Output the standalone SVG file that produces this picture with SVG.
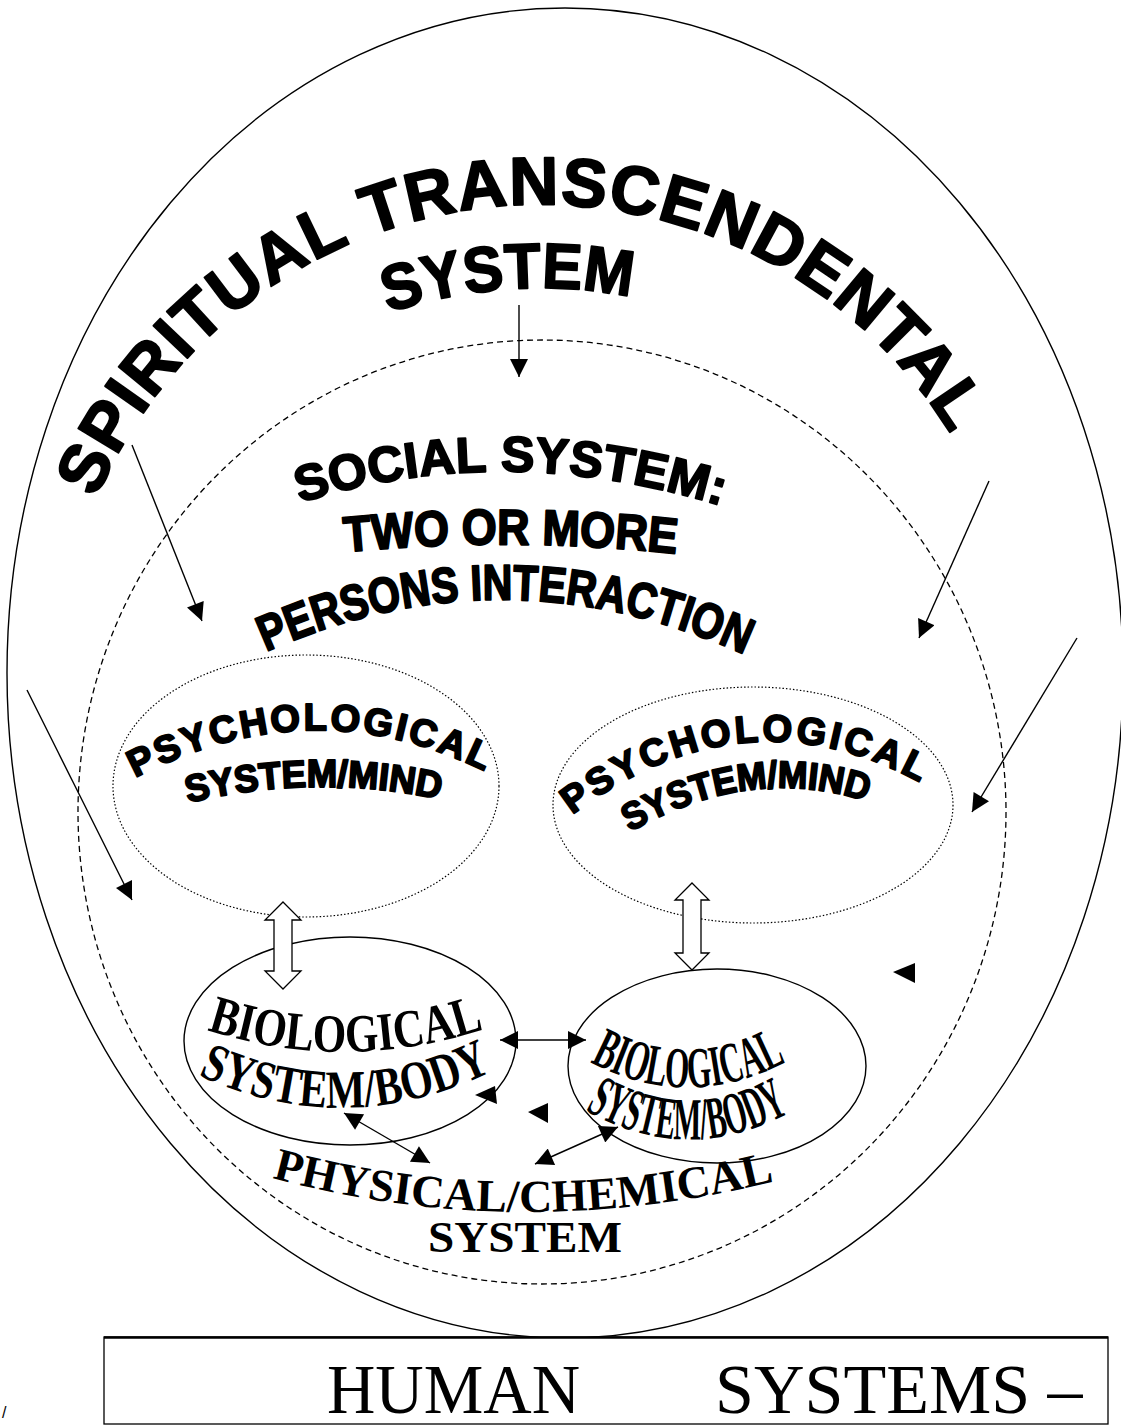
<svg xmlns="http://www.w3.org/2000/svg" width="1121" height="1425" viewBox="0 0 1121 1425">
<style>
.sans{font-family:"Liberation Sans",Arial,sans-serif;font-weight:bold;fill:#000;stroke:#000;stroke-width:2;stroke-linejoin:round}
.serif{font-family:"Liberation Serif","Times New Roman",serif;fill:#000}
.ln{stroke:#000;stroke-width:1.4;fill:none}
.solid{fill:none;stroke:#000;stroke-width:1.4}
.dash{fill:none;stroke:#000;stroke-width:1.3;stroke-dasharray:6 4}
.dot{fill:none;stroke:#000;stroke-width:1.2;stroke-dasharray:1.5 2}
</style>
<defs>
<marker id="ah" viewBox="0 0 10 10" refX="10" refY="5" markerUnits="userSpaceOnUse" markerWidth="20" markerHeight="18" orient="auto-start-reverse">
<path d="M0,0 L10,5 L0,10 z" fill="#000"/>
</marker>
<path id="pSpirit" d="M 96.3 498.7 A 482 482 0 0 1 953 438"/>
<path id="pSys1" d="M 388 313 Q 510 273 632 297"/>
<path id="pSoc1" d="M 300 503 Q 505 438 725 507"/>
<path id="pSoc2" d="M 345 552 Q 512 536 680 554"/>
<path id="pSoc3" d="M 266 652 Q 505 545 750 657"/>
<path id="pPsyL1" d="M 135 778 Q 315 684 492 775"/>
<path id="pPsyL2" d="M 188 803 Q 315 772 443 800"/>
<path id="pPsyR1" d="M 572 815 Q 745 685 925 785"/>
<path id="pPsyR2" d="M 630 832 Q 752 762 872 803"/>
<path id="pBioL1" d="M 207 1030 Q 345 1075 487 1028"/>
<path id="pBioL2" d="M 198 1075 Q 345 1143 495 1070"/>
<path id="pBioR1" d="M 590 1062 Q 688 1114 790 1060"/>
<path id="pBioR2" d="M 585 1110 Q 690 1170 798 1108"/>
<path id="pPhys" d="M 272 1178 Q 520 1245 780 1180"/>
</defs>
<rect width="1121" height="1425" fill="#fff"/>

<g id="spiritual-system">
<ellipse class="solid" cx="565" cy="673" rx="558" ry="665"/>
<text class="sans" font-size="68"><textPath href="#pSpirit" textLength="1055" lengthAdjust="spacing">SPIRITUAL TRANSCENDENTAL</textPath></text>
<text class="sans" font-size="64"><textPath href="#pSys1" textLength="246" lengthAdjust="spacingAndGlyphs">SYSTEM</textPath></text>
</g>

<g id="social-system">
<ellipse class="dash" cx="542" cy="812" rx="464" ry="472"/>
<text class="sans" font-size="50"><textPath href="#pSoc1" textLength="428" lengthAdjust="spacing">SOCIAL SYSTEM:</textPath></text>
<text class="sans" font-size="50"><textPath href="#pSoc2" textLength="332" lengthAdjust="spacingAndGlyphs">TWO OR MORE</textPath></text>
<text class="sans" font-size="50"><textPath href="#pSoc3" textLength="494" lengthAdjust="spacingAndGlyphs">PERSONS INTERACTION</textPath></text>
</g>

<g id="psychological-left">
<ellipse class="dot" cx="306" cy="786" rx="193" ry="131"/>
<text class="sans" font-size="38" stroke-width="1.4"><textPath href="#pPsyL1" textLength="364" lengthAdjust="spacing">PSYCHOLOGICAL</textPath></text>
<text class="sans" font-size="38" stroke-width="1.4"><textPath href="#pPsyL2" textLength="254" lengthAdjust="spacingAndGlyphs">SYSTEM/MIND</textPath></text>
</g>

<g id="psychological-right">
<ellipse class="dot" cx="753" cy="805" rx="200" ry="118"/>
<text class="sans" font-size="38" stroke-width="1.4"><textPath href="#pPsyR1" textLength="372" lengthAdjust="spacing">PSYCHOLOGICAL</textPath></text>
<text class="sans" font-size="38" stroke-width="1.4"><textPath href="#pPsyR2" textLength="246" lengthAdjust="spacingAndGlyphs">SYSTEM/MIND</textPath></text>
</g>

<g id="biological-left">
<ellipse class="solid" cx="350" cy="1041" rx="166" ry="104"/>
<text class="serif" font-size="54" font-weight="bold"><textPath href="#pBioL1" textLength="282" lengthAdjust="spacingAndGlyphs">BIOLOGICAL</textPath></text>
<text class="serif" font-size="54" font-weight="bold"><textPath href="#pBioL2" textLength="305" lengthAdjust="spacingAndGlyphs">SYSTEM/BODY</textPath></text>
</g>

<g id="biological-right">
<ellipse class="solid" cx="717" cy="1066" rx="149" ry="97"/>
<text class="serif" font-size="58" font-weight="bold"><textPath href="#pBioR1" textLength="205" lengthAdjust="spacingAndGlyphs">BIOLOGICAL</textPath></text>
<text class="serif" font-size="60" font-weight="bold"><textPath href="#pBioR2" textLength="215" lengthAdjust="spacingAndGlyphs">SYSTEM/BODY</textPath></text>
</g>

<g id="physical-chemical">
<text class="serif" font-size="46" font-weight="bold"><textPath href="#pPhys" textLength="508" lengthAdjust="spacingAndGlyphs">PHYSICAL/CHEMICAL</textPath></text>
<text class="serif" font-size="44" font-weight="bold" x="428" y="1252" textLength="194" lengthAdjust="spacingAndGlyphs">SYSTEM</text>
</g>

<g id="connectors">
<line class="ln" x1="519" y1="305" x2="519" y2="377" marker-end="url(#ah)"/>
<line class="ln" x1="132" y1="445" x2="202" y2="621" marker-end="url(#ah)"/>
<line class="ln" x1="989" y1="481" x2="919" y2="638" marker-end="url(#ah)"/>
<line class="ln" x1="27" y1="690" x2="132" y2="900" marker-end="url(#ah)"/>
<line class="ln" x1="1077" y1="638" x2="972" y2="812" marker-end="url(#ah)"/>
<line class="ln" x1="500" y1="1040" x2="586" y2="1040" marker-start="url(#ah)" marker-end="url(#ah)"/>
<line class="ln" x1="344" y1="1113" x2="430" y2="1163" marker-start="url(#ah)" marker-end="url(#ah)"/>
<line class="ln" x1="618" y1="1127" x2="535" y2="1164" marker-start="url(#ah)" marker-end="url(#ah)"/>
<polygon points="475,1095 495,1086 497,1104" fill="#000"/>
<polygon points="528,1112 548,1103 548,1123" fill="#000"/>
<polygon points="893,972 915,963 915,983" fill="#000"/>
<path d="M283,902 L301,920 L292,920 L292,971 L301,971 L283,989 L265,971 L274,971 L274,920 L265,920 Z" fill="#fff" stroke="#000" stroke-width="1.3"/>
<path d="M692,883 L709,900 L701,900 L701,953 L709,953 L692,970 L675,953 L683,953 L683,900 L675,900 Z" fill="#fff" stroke="#000" stroke-width="1.3"/>
</g>

<g id="title-box">
<rect x="104" y="1337" width="1004" height="87" fill="#fff" stroke="#000" stroke-width="1.3"/>
<line x1="104" y1="1337.5" x2="1108" y2="1337.5" stroke="#000" stroke-width="2.5"/>
<text class="serif" font-size="70" y="1413"><tspan x="327" textLength="253" lengthAdjust="spacingAndGlyphs">HUMAN</tspan><tspan x="715">SYSTEMS –</tspan></text>
</g>
<text x="2" y="1418" font-size="16" font-family="Liberation Sans, sans-serif">/</text>
</svg>
